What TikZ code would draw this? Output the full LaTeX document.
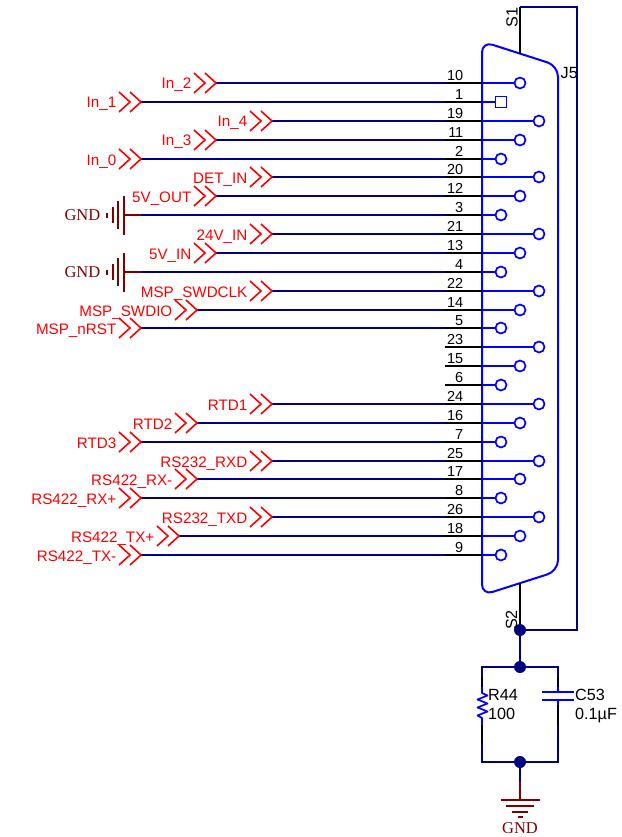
\documentclass[tikz,border=0pt]{standalone}
\usepackage{fontspec}
\setmainfont{Liberation Sans}
\newfontfamily\gndfont{Liberation Serif}

\definecolor{wirenavy}{rgb}{0,0,0.5}
\definecolor{pinblue}{rgb}{0,0,1}
\definecolor{gndred}{rgb}{0.5,0,0}

\tikzset{
  wire/.style={color=wirenavy,line width=2pt},
  stubline/.style={color=black,line width=2pt},
  pinline/.style={color=pinblue,line width=2pt},
  gndline/.style={color=gndred,line width=2pt},
  pinround/.style={circle,draw=pinblue,line width=1.7pt,minimum size=11pt,inner sep=0pt},
  pinsquare/.style={rectangle,draw=pinblue,line width=1.7pt,minimum size=11pt,inner sep=0pt},
  junction/.style={circle,fill=wirenavy,minimum size=12pt,inner sep=0pt},
  pinnum/.style={font=\fontsize{14.5}{15}\selectfont,inner sep=0pt,anchor=base east},
  netlabel/.style={font=\fontsize{15.2}{15}\selectfont,text=red,inner sep=0pt,anchor=base east},
  partlabel/.style={font=\fontsize{16.2}{16}\selectfont,inner sep=0pt},
  gndlabel/.style={font=\gndfont\fontsize{16.5}{17}\selectfont,text=gndred,inner sep=0pt},
  netport/.pic={\draw[red,line width=1.6pt] (-22,-10) -- (-11,0) -- (-22,10) (-11,-10) -- (0,0) -- (-11,10);},
  gndbars/.pic={\draw[gndred,line width=2pt] (0,-19.5) -- (0,19.5) (-6,-14) -- (-6,14) (-11.5,-8) -- (-11.5,8) (-17,-2.5) -- (-17,2.5);}
}

\begin{document}
\begin{tikzpicture}[x=1pt,y=-1pt]
\useasboundingbox (0,0) rectangle (621,837);

% connector shell
\draw[pinblue,line width=2pt,rounded corners=11pt] (482,41.4) -- (558,65.8) -- (558,571) -- (482,595.3) -- cycle;
\node[partlabel,anchor=base west] (j5) at (560.5,79) {J5};

% pins, top to bottom
\foreach \pin/\pinx/\pinshape [count=\i from 0] in {10/520/pinround,1/501/pinsquare,19/539/pinround,11/520/pinround,
  2/501/pinround,20/539/pinround,12/520/pinround,3/501/pinround,21/539/pinround,13/520/pinround,4/501/pinround,
  22/539/pinround,14/520/pinround,5/501/pinround,23/539/pinround,15/520/pinround,6/501/pinround,24/539/pinround,
  16/520/pinround,7/501/pinround,25/539/pinround,17/520/pinround,8/501/pinround,26/539/pinround,18/520/pinround,9/501/pinround}
  {
  \pgfmathsetmacro{\rowy}{round(83+18.88*\i)}
  \coordinate (stub\pin) at (445,\rowy);
  \coordinate (body\pin) at (482,\rowy);
  \node[\pinshape] (pin\pin) at (\pinx,\rowy) {};
  \node[pinnum] (num\pin) at (463.5,\rowy-2.7) {\pin};
  \draw[stubline] (stub\pin) -- (body\pin);
  \draw[pinline] (body\pin) -- (pin\pin);
  }

% nets coming in from the left
\foreach \pin/\tip/\netname in {10/216/In\_2,1/141/In\_1,19/272/In\_4,11/216/In\_3,2/141/In\_0,20/272/DET\_IN,
  12/216/5V\_OUT,21/272/24V\_IN,13/216/5V\_IN,22/272/MSP\_SWDCLK,14/197/MSP\_SWDIO,5/141/MSP\_nRST,
  24/272/RTD1,16/197/RTD2,7/141/RTD3,25/272/RS232\_RXD,17/197/RS422\_RX-,8/141/RS422\_RX+,
  26/272/RS232\_TXD,18/179/RS422\_TX+,9/141/RS422\_TX-}
  {
  \coordinate (net\pin) at (\tip,0 |- stub\pin);
  \draw[wire] (net\pin) -- (stub\pin);
  \pic at (net\pin) {netport};
  \node[netlabel] (label\pin) at ([shift={(-24.5,6)}]net\pin) {\netname};
  }

% the two ground pins
\foreach \pin in {3,4}
  {
  \coordinate (net\pin) at (141,0 |- stub\pin);
  \coordinate (bar\pin) at (124,0 |- stub\pin);
  \draw[wire] (net\pin) -- (stub\pin);
  \draw[gndline] (bar\pin) -- (net\pin);
  \pic at (bar\pin) {gndbars};
  \node[gndlabel,anchor=base east] (gnd\pin) at ([shift={(-23.5,5.5)}]bar\pin) {GND};
  }

% shield
\coordinate (s1low) at (520,53.6);
\coordinate (s1top) at (520,7);
\coordinate (shieldtr) at (577,7);
\coordinate (shieldbr) at (577,630);
\coordinate (s2high) at (520,583);
\node[junction] (shieldjct) at (520,630) {};
\node[junction] (rctop) at (520,667) {};
\node[junction] (rcbottom) at (520,762) {};
\node[partlabel,rotate=90] (s1) at (512,17.5) {S1};
\node[partlabel,rotate=90] (s2) at (511.5,620) {S2};
\draw[stubline] (s1low) -- (s1top);
\draw[wire] (s1top) -- (shieldtr) -- (shieldbr) -- (shieldjct);
\draw[stubline] (s2high) -- (shieldjct);
\draw[wire] (shieldjct) -- (rctop);

% R44
\coordinate (rtl) at (482,667);
\coordinate (rbl) at (482,762);
\coordinate (rwa) at (482,677);
\coordinate (rwb) at (482,687);
\coordinate (rwc) at (482,725);
\coordinate (rwd) at (482,743);
\draw[wire] (rctop) -- (rtl) -- (rwa);
\draw[stubline] (rwa) -- (rwb);
\draw[pinline,line width=1.7pt,line join=round] (rwb) -- (482,693) -- (487.5,695.5) -- (477.5,699.5) -- (487.5,703.5) -- (477.5,707.5) -- (487.5,711.5) -- (477.5,715.5) -- (482,718) -- (rwc);
\draw[stubline] (rwc) -- (rwd);
\draw[wire] (rwd) -- (rbl) -- (rcbottom);
\node[partlabel,anchor=base west] (r44) at (488,700.5) {R44};
\node[partlabel,anchor=base west] (r44val) at (488,719.5) {100};

% C53
\coordinate (ctr) at (558,667);
\coordinate (cbr) at (558,762);
\coordinate (cwa) at (558,677);
\coordinate (cwb) at (558,687);
\coordinate (cpa) at (558,692);
\coordinate (cpb) at (558,700);
\coordinate (cwc) at (558,705);
\coordinate (cwd) at (558,725);
\draw[wire] (rctop) -- (ctr) -- (cwa);
\draw[stubline] (cwa) -- (cwb);
\draw[pinline] (cwb) -- (cpa) (542,692) -- (574,692) (542,700) -- (574,700) (cpb) -- (cwc);
\draw[stubline] (cwc) -- (cwd);
\draw[wire] (cwd) -- (cbr) -- (rcbottom);
\node[partlabel,anchor=base west] (c53) at (575,700.5) {C53};
\node[partlabel,anchor=base west] (c53val) at (575,719.5) {0.1µF};

% ground at the bottom
\coordinate (gndmid) at (520,782);
\coordinate (gndbar) at (520,800);
\draw[wire] (rcbottom) -- (gndmid);
\draw[gndline] (gndmid) -- (gndbar);
\pic[rotate=90] at (gndbar) {gndbars};
\node[gndlabel] (gndbot) at (520,828) {GND};
\end{tikzpicture}
\end{document}
